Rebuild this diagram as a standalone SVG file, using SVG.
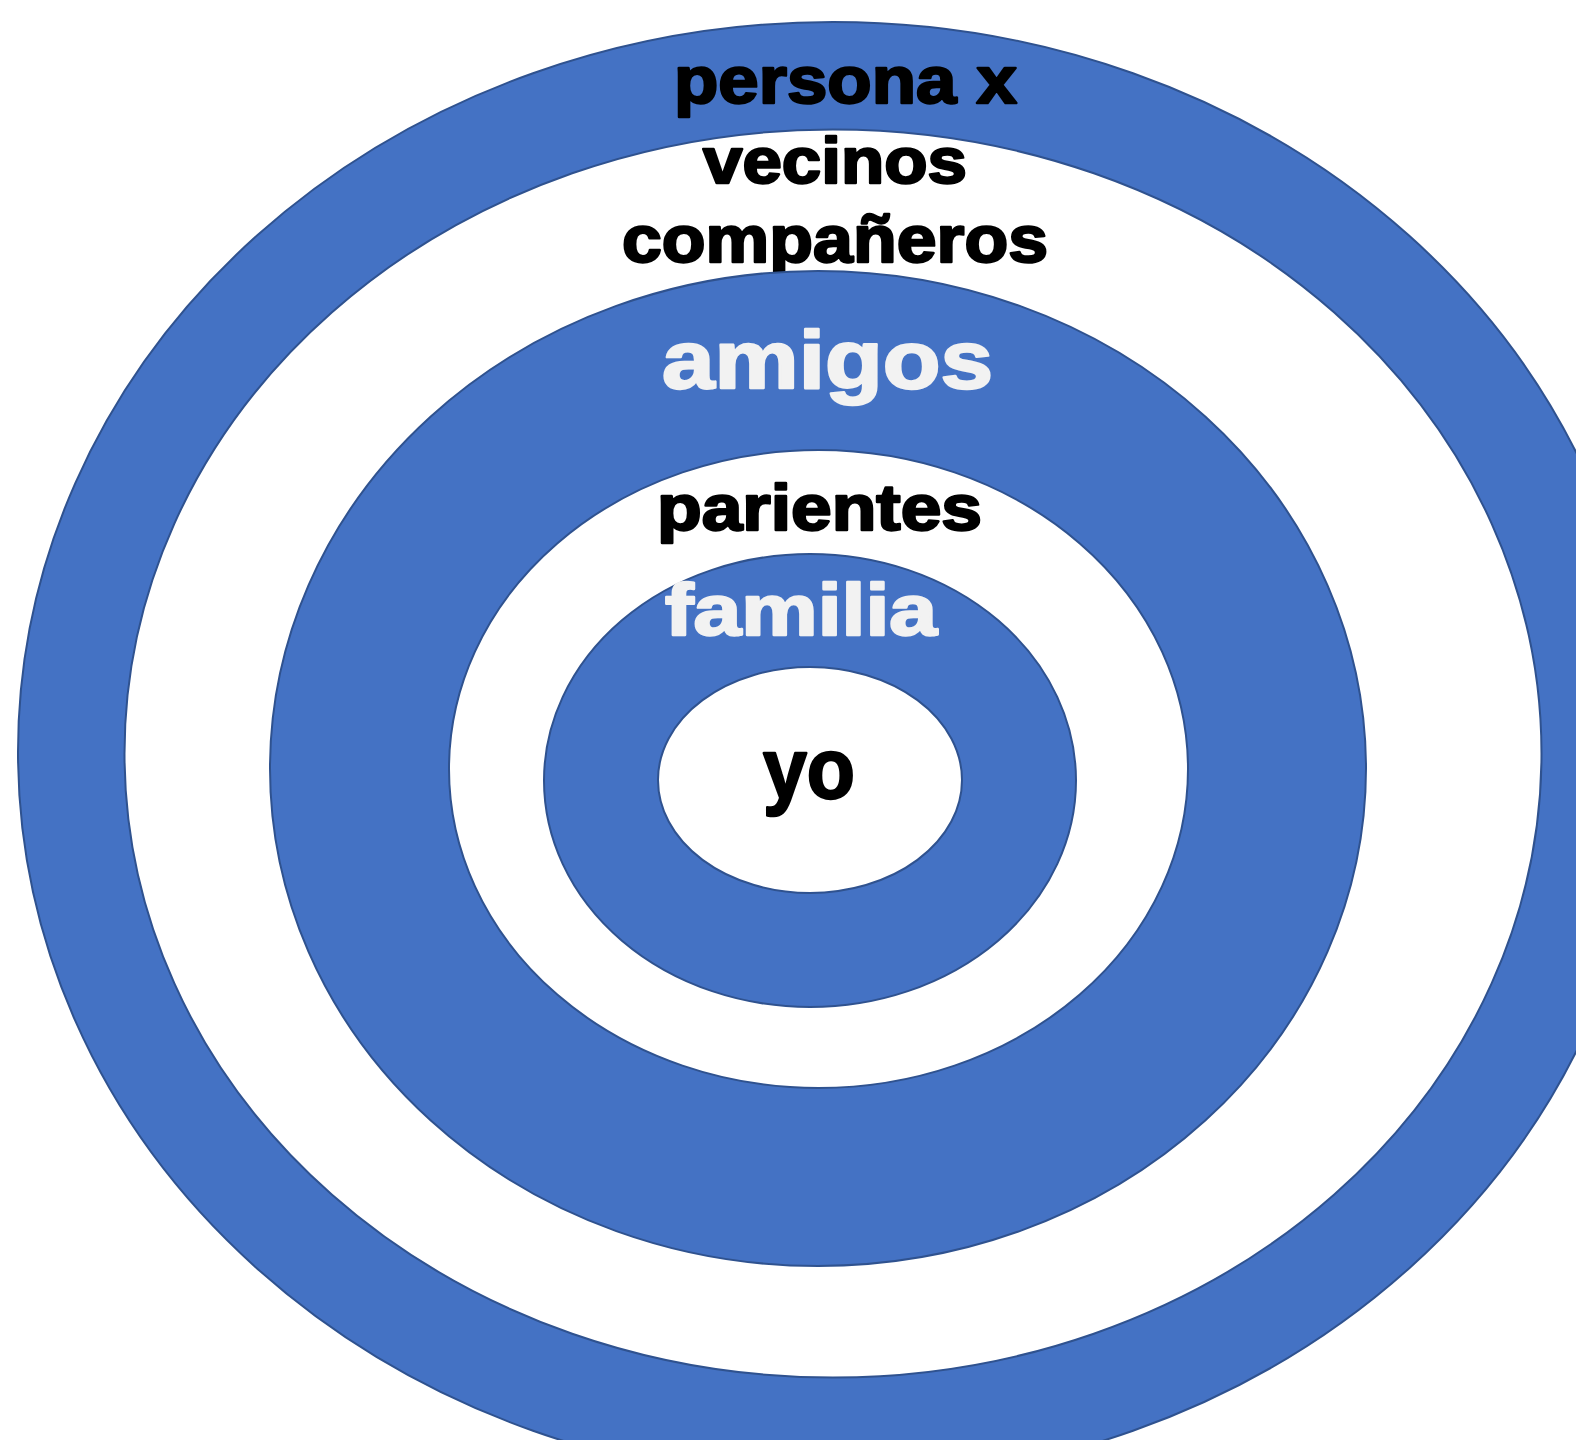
<svg xmlns="http://www.w3.org/2000/svg" width="1576" height="1440" viewBox="0 0 1576 1440">
<style>
.ring{stroke:#2F528F;stroke-width:2}
.blue{fill:#4472C4}
.white{fill:#FFFFFF}
.lbl{font-family:"Liberation Sans",Arial,sans-serif;font-weight:bold;text-anchor:middle;stroke-linejoin:round}
.dark{fill:#000000;stroke:#000000;stroke-width:2.4}
.light{fill:#F2F2F2;stroke:#F2F2F2;stroke-width:2.4}
</style>
<rect width="1576" height="1440" fill="#FFFFFF"/>
<g id="ring-persona-x">
<ellipse class="ring blue" cx="833" cy="752" rx="815" ry="730"/>
<text class="lbl dark" x="845.5" y="103" font-size="66" textLength="343" lengthAdjust="spacingAndGlyphs">persona x</text>
</g>
<g id="ring-vecinos-companeros">
<ellipse class="ring white" cx="833" cy="753.5" rx="708.5" ry="624"/>
<text class="lbl dark" x="835" y="183" font-size="64" textLength="264" lengthAdjust="spacingAndGlyphs">vecinos</text>
<text class="lbl dark" x="835" y="262" font-size="66" textLength="426" lengthAdjust="spacingAndGlyphs">compañeros</text>
</g>
<g id="ring-amigos">
<ellipse class="ring blue" cx="818" cy="768.5" rx="548" ry="497.5"/>
<text class="lbl light" x="827.5" y="388" font-size="82" textLength="331" lengthAdjust="spacingAndGlyphs">amigos</text>
</g>
<g id="ring-parientes">
<ellipse class="ring white" cx="818.5" cy="769" rx="369.5" ry="319"/>
<text class="lbl dark" x="819.5" y="530" font-size="64" textLength="325" lengthAdjust="spacingAndGlyphs">parientes</text>
</g>
<g id="ring-familia">
<ellipse class="ring blue" cx="810" cy="780.5" rx="266" ry="226.5"/>
<text class="lbl light" x="801" y="635" font-size="72" textLength="272" lengthAdjust="spacingAndGlyphs">familia</text>
</g>
<g id="node-yo">
<ellipse class="ring white" cx="810" cy="780" rx="152" ry="113"/>
<text class="lbl dark" x="809" y="798" font-size="86" textLength="92" lengthAdjust="spacingAndGlyphs">yo</text>
</g>
<g id="connectors"/>
</svg>
